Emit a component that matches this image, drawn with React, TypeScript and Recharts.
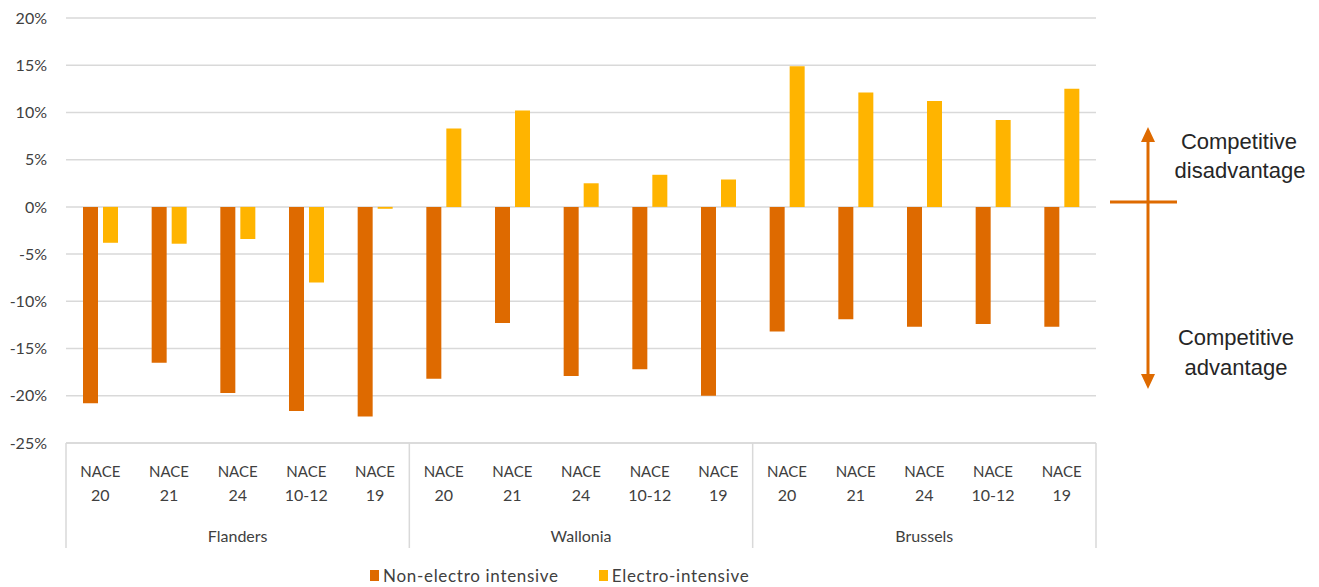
import { BarChart, Bar, XAxis, YAxis, CartesianGrid } from 'recharts';

const regions = ['Flanders', 'Wallonia', 'Brussels'];
const naceCodes = ['20', '21', '24', '10-12', '19'];

// values in %, one per region x NACE code, in order
const nonElectro = [
  -20.8, -16.5, -19.7, -21.6, -22.2,
  -18.2, -12.3, -17.9, -17.2, -20.0,
  -13.2, -11.9, -12.7, -12.4, -12.7,
];
const electro = [
  -3.8, -3.9, -3.4, -8.0, -0.2,
  8.3, 10.2, 2.5, 3.4, 2.9,
  14.9, 12.1, 11.2, 9.2, 12.5,
];
const yTicks = [-25, -20, -15, -10, -5, 0, 5, 10, 15, 20];

const ORANGE = '#DE6A00';
const YELLOW = '#FFB400';
const GRID = '#D9D9D9';
const TEXT = '#404040';

const data = regions.flatMap((region, r) =>
  naceCodes.map((code, c) => ({
    key: `${region}|${code}`,
    region,
    code,
    nonElectro: nonElectro[r * naceCodes.length + c],
    electro: electro[r * naceCodes.length + c],
  }))
);

function CategoryTick(props: any) {
  const { x, y, payload, index } = props;
  const row = data[index];
  const half = payload && payload.offset ? payload.offset : 34.3;
  const pos = index % naceCodes.length;
  return (
    <g>
      {pos === 0 && <line x1={x - half} x2={x - half} y1={y} y2={y + 105} stroke={GRID} strokeWidth={1.5} />}
      {index === data.length - 1 && <line x1={x + half} x2={x + half} y1={y} y2={y + 105} stroke={GRID} strokeWidth={1.5} />}
      <text x={x} y={y + 34} textAnchor="middle" fontSize={15} fill={TEXT}>NACE</text>
      <text x={x} y={y + 58} textAnchor="middle" fontSize={16} fill={TEXT}>{row.code}</text>
      {pos === 2 && <text x={x} y={y + 99} textAnchor="middle" fontSize={16} fill={TEXT}>{row.region}</text>}
    </g>
  );
}

const legendItems = [
  { label: 'Non-electro intensive', color: ORANGE },
  { label: 'Electro-intensive', color: YELLOW },
];

export default function App() {
  return (
    <div style={{ position: 'absolute', left: 0, top: 0, width: 1319, height: 587, background: '#fff', fontFamily: 'Lato, sans-serif' }}>
      <BarChart
        width={1319}
        height={587}
        data={data}
        margin={{ top: 18, right: 223, left: 0, bottom: 39 }}
        barSize={15}
        barGap={5}
      >
        <CartesianGrid horizontal vertical={false} stroke={GRID} strokeWidth={1.5} />
        <XAxis
          dataKey="key"
          interval={0}
          height={105}
          tickLine={false}
          tickSize={0}
          tickMargin={0}
          axisLine={{ stroke: GRID, strokeWidth: 1.5 }}
          tick={<CategoryTick />}
        />
        <YAxis
          width={66}
          domain={[-25, 20]}
          ticks={yTicks}
          axisLine={false}
          tickLine={false}
          tickMargin={13}
          tickFormatter={(v: number) => `${v}%`}
          tick={{ fontSize: 16, fill: TEXT }}
        />
        <Bar dataKey="nonElectro" name="Non-electro intensive" fill={ORANGE} isAnimationActive={false} />
        <Bar dataKey="electro" name="Electro-intensive" fill={YELLOW} isAnimationActive={false} />
      </BarChart>
      <div style={{ position: 'absolute', left: 370, top: 565, display: 'flex', gap: 40, fontSize: 17, letterSpacing: 0.7, color: TEXT }}>
        {legendItems.map((it) => (
          <div key={it.label} style={{ display: 'flex', alignItems: 'center', gap: 4 }}>
            <span style={{ width: 9, height: 11, background: it.color, display: 'inline-block' }} />
            <span>{it.label}</span>
          </div>
        ))}
      </div>
      <svg width={1319} height={587} style={{ position: 'absolute', left: 0, top: 0, pointerEvents: 'none' }}>
        <line x1={1148} x2={1148} y1={140} y2={376} stroke={ORANGE} strokeWidth={3} />
        <polygon points="1148,127 1141,142 1155,142" fill={ORANGE} />
        <polygon points="1148,389 1141,374 1155,374" fill={ORANGE} />
        <line x1={1110} x2={1177} y1={202} y2={202} stroke={ORANGE} strokeWidth={3} />
        <g fontFamily="'Liberation Sans', Arial, sans-serif" fontSize={22} fill="#262626" textAnchor="middle">
          <text x={1239} y={149}>Competitive</text>
          <text x={1240} y={178}>disadvantage</text>
          <text x={1236} y={345}>Competitive</text>
          <text x={1236} y={375}>advantage</text>
        </g>
      </svg>
    </div>
  );
}
